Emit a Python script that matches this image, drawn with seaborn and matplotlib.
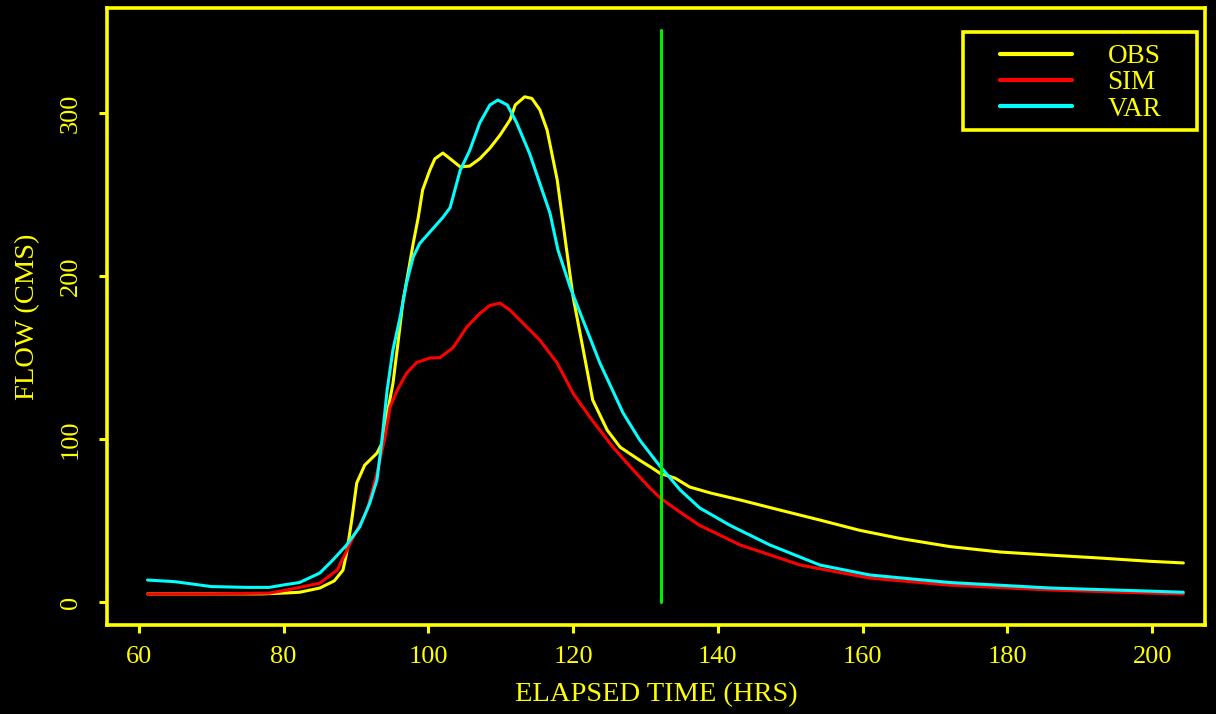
import matplotlib
matplotlib.use("Agg")
import matplotlib.pyplot as plt
import seaborn as sns
import pandas as pd
from matplotlib.lines import Line2D
from matplotlib.patches import Rectangle

# ---- data ----
obs_t = [61.2, 70, 77, 80, 82.2, 85, 87, 88.2, 88.7, 89.4, 90.1, 91.2, 92.9, 93.6, 94.4, 95.1, 95.8, 96.5,
         97.2, 97.9, 98.6, 99.2, 100.2, 100.9, 102, 103, 104.4, 105.7, 107.1, 108.5, 109.9, 111.3, 112,
         113.3, 114.3, 115.4, 116.4, 117.8, 119.1, 120, 121.4, 122.7, 124.7, 126.5, 129.2, 131, 132,
         134.1, 136.1, 138.9, 143.1, 148.6, 154.1, 159.6, 165.2, 172.1, 179, 185.9, 192.8, 199.7, 204.3]
obs_q = [5, 5, 5, 5.5, 6, 8.6, 13, 19.6, 30, 50, 73, 84, 91.4, 97.5, 117.8, 134, 159, 185,
         202, 220, 236, 252.8, 265, 272, 275.5, 272, 267, 267.5, 272, 278.5, 286.5, 296, 305,
         310, 309, 302, 289.6, 259, 216, 187, 154.6, 124, 105.5, 95, 87, 82, 79,
         76, 70.6, 67, 62.6, 56.4, 50.3, 44, 39, 34, 30.7, 28.8, 27, 25, 24]

sim_t = [61.2, 70, 78, 80, 82.2, 85, 87.4, 89.2, 91.5, 92.9, 94, 94.7, 95.7, 97, 98.4, 100.2, 101.6, 103.4,
         105.3, 107.1, 108.5, 109.9, 111.3, 114, 115.4, 117.8, 120, 122.3, 125.5, 127.9, 130.6, 132,
         134.5, 137.5, 143.1, 151.4, 161, 172, 186, 199.7, 204.3]
sim_q = [5, 5, 5.5, 7, 9, 11.6, 19.6, 36, 56, 79, 101, 119.6, 130, 140.5, 147, 149.7, 150, 156,
         168.7, 177, 182, 183.4, 179, 167, 160.7, 146.6, 128, 113.5, 95, 83, 70, 64,
         56, 47, 35, 22.7, 14.7, 10.4, 7.4, 5.5, 5]

var_t = [61.2, 65, 70, 75, 78, 80, 82.2, 85, 86.8, 88.7, 90.5, 91.9, 92.9, 93.6, 94.3, 95.1, 96.1, 97,
         97.9, 98.8, 100.2, 102, 103, 104.4, 105.7, 107.1, 108.5, 109.6, 110.9, 112.2, 114, 116.8, 117.9,
         119.6, 121, 123.7, 126.9, 129.2, 131.7, 134.8, 137.5, 141.7, 147.2, 154.1, 161, 172, 186,
         199.7, 204.3]
var_q = [13.5, 12.5, 9.5, 9, 9, 10.5, 12, 17.8, 25.8, 35, 46, 60.7, 75, 100, 130, 154.6, 175, 196,
         211.7, 220, 227, 236, 242, 265, 277, 294, 305, 308, 305, 294, 275, 238.6, 216,
         193, 177, 146.6, 116, 99.4, 85, 68.7, 57.7, 47, 35, 22.7, 16.6, 12, 8.6,
         6.7, 6]

series_names = ["OBS", "SIM", "VAR"]
series_colors = ["#ffff00", "#ff0000", "#00ffff"]
marker_time = 132.1
x_ticks = [60, 80, 100, 120, 140, 160, 180, 200]
y_ticks = [0, 100, 200, 300]

df = pd.concat([
    pd.DataFrame({"time": obs_t, "flow": obs_q, "series": "OBS"}),
    pd.DataFrame({"time": sim_t, "flow": sim_q, "series": "SIM"}),
    pd.DataFrame({"time": var_t, "flow": var_q, "series": "VAR"}),
], ignore_index=True)

sns.set_theme(style="dark")
fg = "#ffff00"
plt.rcParams["font.family"] = ["Liberation Serif", "DejaVu Serif"]

fig = plt.figure(figsize=(12.16, 7.14), dpi=100, facecolor="black")
ax = fig.add_axes([0.088, 0.1246, 0.903, 0.864])
ax.set_facecolor("black")

palette = dict(zip(series_names, series_colors))
sns.lineplot(data=df, x="time", y="flow", hue="series", palette=palette,
             hue_order=series_names, linewidth=2.2, ax=ax, legend=False,
             sort=False, estimator=None)

ax.plot([marker_time, marker_time], [0, 351], color="#00ee00", linewidth=2.2)

ax.set_xlim(55.6, 207.3)
ax.set_ylim(-14.1, 364.4)
ax.set_xticks(x_ticks)
ax.set_yticks(y_ticks)
ax.grid(False)
for s in ax.spines.values():
    s.set_color(fg)
    s.set_linewidth(2.6)
    s.set_visible(True)
ax.tick_params(axis="both", colors=fg, length=6, width=2.2, direction="out",
               labelsize=19)
ax.tick_params(axis="x", bottom=True, pad=9)
ax.tick_params(axis="y", left=True, pad=12)
for lab in ax.get_yticklabels():
    lab.set_rotation(90)
    lab.set_va("center")

ax.set_xlabel("ELAPSED TIME (HRS)", color=fg, fontsize=20.5, labelpad=10)
ax.set_ylabel("FLOW (CMS)", color=fg, fontsize=20.5, labelpad=14)

# legend box
ax.add_patch(Rectangle((0.7796, 0.8023), 0.9927 - 0.7796, 0.9611 - 0.8023,
                       transform=ax.transAxes, facecolor="black", edgecolor=fg,
                       linewidth=2.6, zorder=5, clip_on=False))
handles = [Line2D([], [], color=c, linewidth=3) for c in series_colors]
leg = ax.legend(handles, series_names, loc="upper left", bbox_to_anchor=(0.8133, 0.9417),
                frameon=False, fontsize=19.5,
                handlelength=2.67, handletextpad=1.3, labelspacing=0.05,
                borderpad=0, borderaxespad=0)
leg.set_zorder(6)
for t in leg.get_texts():
    t.set_color(fg)

fig.savefig("out.png", dpi=100, facecolor="black")
